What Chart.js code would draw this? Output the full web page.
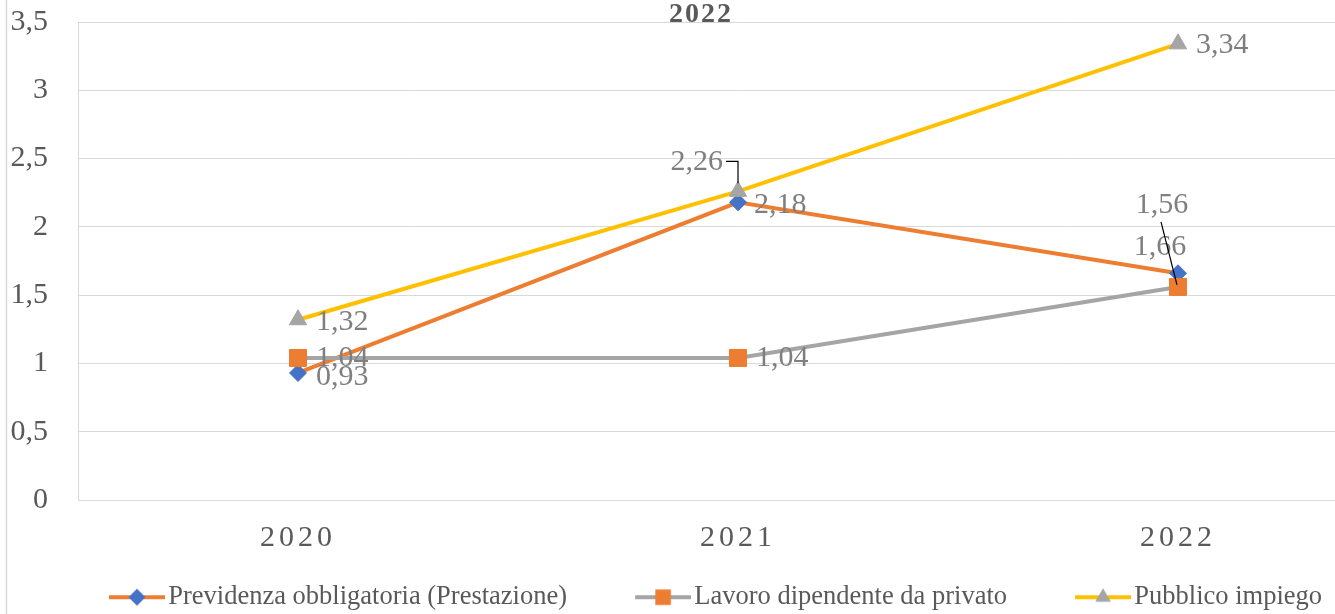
<!DOCTYPE html>
<html>
<head>
<meta charset="utf-8">
<script src="https://cdn.jsdelivr.net/npm/chart.js@4/dist/chart.umd.min.js"></script>
<style>
html, body { margin: 0; padding: 0; background: #fff; overflow: hidden; }
#wrap { position: relative; width: 1335px; height: 614px; overflow: hidden; }
canvas { display: block; }
</style>
</head>
<body>
<div id="wrap"><canvas id="grafico" width="1411" height="614"></canvas></div>
<script>
// dati
const categorie = ['2020', '2021', '2022'];
const previdenza = [0.93, 2.18, 1.66];
const lavoroPrivato = [1.04, 1.04, 1.56];
const pubblicoImpiego = [1.32, 2.26, 3.34];
const nomiSerie = ['Previdenza obbligatoria (Prestazione)', 'Lavoro dipendente da privato', 'Pubblico impiego'];
const tickY = [0, 0.5, 1, 1.5, 2, 2.5, 3, 3.5];
const titolo = '2022';

const FONT = '"Liberation Serif", "Times New Roman", serif';
const virgola = v => String(v).replace('.', ',');

// posizione delle etichette rispetto al punto
const posEtichette = [
    [{ dx: 18, dy: 4, align: 'left' }, { dx: 16, dy: 3, align: 'left' }, { dx: -18, dy: -26, align: 'center' }],
    [{ dx: 18, dy: 0, align: 'left' }, { dx: 18, dy: 0, align: 'left' }, { dx: -16, dy: -82, align: 'center', guida: 'dritta' }],
    [{ dx: 18, dy: 2, align: 'left' }, { dx: -15, dy: -29, align: 'right', guida: 'gomito' }, { dx: 18, dy: 1, align: 'left' }]
];

// icona della legenda: spazio vuoto a sinistra, poi linea e marcatore
const LARGH_BOX = 88;
function iconaLegenda(colLinea, colPunto, forma, raggio) {
    const c = document.createElement('canvas');
    c.width = LARGH_BOX + 20; c.height = 22;
    const g = c.getContext('2d');
    const x0 = c.width - 56;
    g.strokeStyle = colLinea;
    g.lineWidth = 4;
    g.beginPath(); g.moveTo(x0, 11); g.lineTo(c.width, 11); g.stroke();
    g.fillStyle = colPunto;
    g.strokeStyle = colPunto;
    Chart.helpers.drawPoint(g, { pointStyle: forma, radius: raggio, borderWidth: 0, rotation: 0 }, x0 + 28, 11);
    return c;
}

const icone = [
    iconaLegenda('#ED7D31', '#4472C4', 'rectRot', 8.5),
    iconaLegenda('#A5A5A5', '#ED7D31', 'rect', 11),
    iconaLegenda('#FFC000', '#A5A5A5', 'triangle', 9)
];

// etichette dei dati con linee guida
const etichette = {
    id: 'etichette',
    afterDatasetsDraw(chart) {
        const ctx = chart.ctx;
        ctx.save();
        ctx.font = '30px ' + FONT;
        ctx.fillStyle = '#7F7F7F';
        ctx.textBaseline = 'middle';
        chart.data.datasets.forEach((ds, i) => {
            const meta = chart.getDatasetMeta(i);
            meta.data.forEach((pt, j) => {
                const p = posEtichette[i][j];
                const x = pt.x, y = pt.y;
                if (p.guida) {
                    ctx.strokeStyle = '#000';
                    ctx.lineWidth = 1.2;
                    ctx.beginPath();
                    if (p.guida === 'dritta') {
                        ctx.moveTo(x - 17, y - 65);
                        ctx.lineTo(x - 1, y - 2);
                    } else {
                        ctx.moveTo(x - 12, y - 30);
                        ctx.lineTo(x, y - 30);
                        ctx.lineTo(x, y - 8);
                    }
                    ctx.stroke();
                }
                ctx.textAlign = p.align;
                ctx.fillText(virgola(ds.data[j].toFixed(2)), x + p.dx, y + p.dy);
            });
        });
        ctx.restore();
    }
};

// titolo, bordo sinistro e spaziatura delle etichette dell'asse x
const decorazioni = {
    id: 'decorazioni',
    afterLayout(chart) {
        const sc = chart.scales.x;
        if (sc._spaziato) return;
        const orig = sc.drawLabels.bind(sc);
        sc.drawLabels = function (area) {
            chart.ctx.save();
            chart.ctx.letterSpacing = '4px';
            orig(area);
            chart.ctx.restore();
        };
        sc._spaziato = true;
    },
    beforeDraw(chart) {
        const ctx = chart.ctx;
        ctx.save();
        ctx.strokeStyle = '#D9D9D9';
        ctx.lineWidth = 1.5;
        ctx.beginPath();
        ctx.moveTo(6.5, 0);
        ctx.lineTo(6.5, chart.height);
        ctx.stroke();
        ctx.restore();
    },
    afterDraw(chart) {
        const ctx = chart.ctx;
        ctx.save();
        ctx.font = 'bold 28px ' + FONT;
        ctx.letterSpacing = '2px';
        ctx.fillStyle = '#595959';
        ctx.textAlign = 'center';
        ctx.textBaseline = 'middle';
        ctx.fillText(titolo, 701, 15);
        ctx.restore();
    }
};

const ctx = document.getElementById('grafico').getContext('2d');
const grafico = new Chart(ctx, {
    type: 'line',
    data: {
        labels: categorie,
        datasets: [
            {
                label: nomiSerie[0],
                data: previdenza,
                borderColor: '#ED7D31',
                backgroundColor: '#4472C4',
                pointBackgroundColor: '#4472C4',
                pointBorderColor: '#4472C4',
                pointStyle: 'rectRot',
                pointRadius: 8.5,
                order: 3
            },
            {
                label: nomiSerie[1],
                data: lavoroPrivato,
                borderColor: '#A5A5A5',
                backgroundColor: '#ED7D31',
                pointBackgroundColor: '#ED7D31',
                pointBorderColor: '#ED7D31',
                pointStyle: 'rect',
                pointRadius: 12,
                order: 2
            },
            {
                label: nomiSerie[2],
                data: pubblicoImpiego,
                borderColor: '#FFC000',
                backgroundColor: '#A5A5A5',
                pointBackgroundColor: '#A5A5A5',
                pointBorderColor: '#A5A5A5',
                pointStyle: 'triangle',
                pointRadius: 10,
                order: 1
            }
        ]
    },
    options: {
        responsive: false,
        animation: false,
        events: [],
        elements: {
            line: { borderWidth: 4, tension: 0, borderCapStyle: 'round' },
            point: { borderWidth: 1 }
        },
        layout: { padding: { top: 22, right: 0, left: -22, bottom: 0 } },
        scales: {
            x: {
                offset: true,
                grid: { display: false, drawTicks: false },
                border: { display: true, color: '#D9D9D9', width: 1 },
                ticks: {
                    color: '#595959',
                    font: { family: FONT, size: 30 },
                    padding: 20
                },
                afterFit(scale) { scale.height = 58; }
            },
            y: {
                min: 0,
                max: 3.5,
                grid: { color: '#D9D9D9', lineWidth: 1, drawTicks: false },
                border: { display: true, color: '#D9D9D9', width: 1 },
                afterBuildTicks(scale) { scale.ticks = tickY.map(v => ({ value: v })); },
                ticks: {
                    color: '#595959',
                    font: { family: FONT, size: 30 },
                    padding: 30,
                    callback: v => virgola(v)
                },
                afterFit(scale) {
                    scale.width = 100;
                    scale.paddingTop = 0;
                    scale.paddingBottom = 0;
                }
            }
        },
        plugins: {
            title: { display: false },
            tooltip: { enabled: false },
            legend: {
                position: 'bottom',
                maxHeight: 56,
                labels: {
                    usePointStyle: true,
                    pointStyleWidth: LARGH_BOX,
                    padding: 26,
                    color: '#595959',
                    font: { family: FONT, size: 26.5 },
                    generateLabels(chart) {
                        return chart.data.datasets.map((ds, i) => ({
                            text: ds.label,
                            pointStyle: icone[i],
                            fillStyle: ds.backgroundColor,
                            strokeStyle: ds.borderColor,
                            lineWidth: 0,
                            hidden: false,
                            fontColor: '#595959',
                            datasetIndex: i
                        }));
                    }
                }
            }
        }
    },
    plugins: [etichette, decorazioni]
});
</script>
</body>
</html>
